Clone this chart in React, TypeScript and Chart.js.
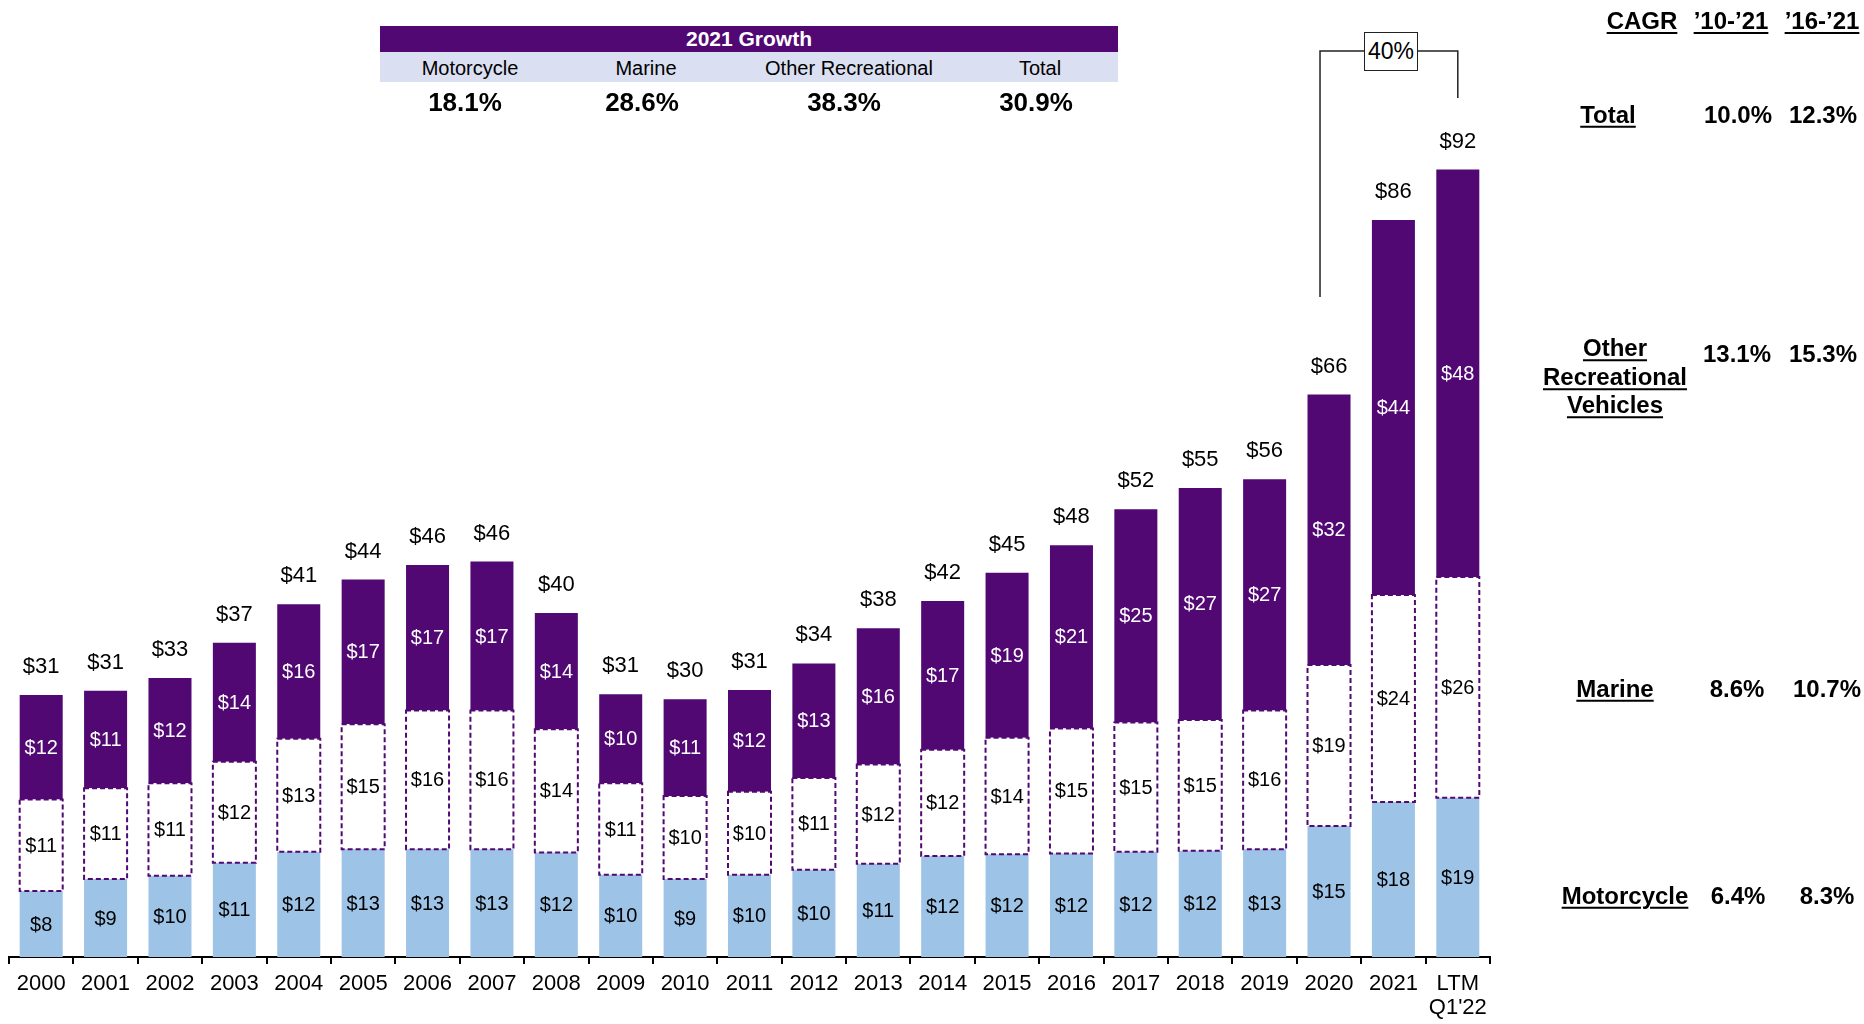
import React, { useEffect, useRef } from 'react';
import { Chart, registerables } from 'chart.js';

Chart.register(...registerables);

// ---------- data ----------
const categories: (string | string[])[] = [
  '2000', '2001', '2002', '2003', '2004', '2005', '2006', '2007', '2008', '2009', '2010',
  '2011', '2012', '2013', '2014', '2015', '2016', '2017', '2018', '2019', '2020', '2021',
  ['LTM', "Q1'22"],
];
const motorcycle = [7.7, 9.1, 9.5, 11.0, 12.3, 12.6, 12.6, 12.6, 12.2, 9.6, 9.1, 9.6, 10.2, 10.9, 11.8, 12.0, 12.1, 12.3, 12.4, 12.6, 15.3, 18.1, 18.6];
const marine = [10.7, 10.6, 10.8, 11.8, 13.2, 14.6, 16.2, 16.2, 14.4, 10.7, 9.7, 9.7, 10.7, 11.6, 12.4, 13.6, 14.6, 15.1, 15.3, 16.2, 18.8, 24.2, 25.8];
const otherRec = [12.2, 11.4, 12.3, 13.9, 15.7, 16.9, 17.0, 17.4, 13.6, 10.4, 11.3, 11.9, 13.4, 15.9, 17.4, 19.3, 21.4, 24.9, 27.1, 27.0, 31.6, 43.8, 47.6];

const growthTitle = '2021 Growth';
const growthHeaders = ['Motorcycle', 'Marine', 'Other Recreational', 'Total'];
const growthValues = ['18.1%', '28.6%', '38.3%', '30.9%'];

const cagrHeaders = ['CAGR', '’10-’21', '’16-’21'];
const cagrRows = [['Total'], ['Other', 'Recreational', 'Vehicles'], ['Marine'], ['Motorcycle']];
const cagr1021 = ['10.0%', '13.1%', '8.6%', '6.4%'];
const cagr1621 = ['12.3%', '15.3%', '10.7%', '8.3%'];

const bracketLabel = '40%';
const bracketFrom = 20; // 2020
const bracketTo = 22; // LTM

// ---------- styles ----------
const PURPLE = '#510873';
const LIGHT_BLUE = '#9DC3E6';
const LAVENDER = '#DADFF2';
const FONT = "'Liberation Sans', Arial, Helvetica, sans-serif";

const totals = motorcycle.map((m, i) => Math.round((m + marine[i] + otherRec[i]) * 10) / 10);

const labelPlugin = {
  id: 'valueLabels',
  afterDatasetsDraw(chart: any) {
    const ctx: CanvasRenderingContext2D = chart.ctx;
    const yScale = chart.scales.y;

    // dashed outline for the marine segments
    const mMeta = chart.getDatasetMeta(1);
    ctx.save();
    ctx.strokeStyle = PURPLE;
    ctx.lineWidth = 2;
    ctx.setLineDash([5, 3]);
    mMeta.data.forEach((el: any) => {
      const p = el.getProps(['x', 'y', 'base', 'width'], true);
      ctx.strokeRect(p.x - p.width / 2, p.y, p.width, p.base - p.y);
    });
    ctx.restore();

    // segment labels
    ctx.save();
    ctx.textAlign = 'center';
    ctx.textBaseline = 'middle';
    ctx.font = `20px ${FONT}`;
    chart.data.datasets.forEach((ds: any, di: number) => {
      const meta = chart.getDatasetMeta(di);
      ctx.fillStyle = di === 2 ? '#FFFFFF' : '#000000';
      meta.data.forEach((el: any, i: number) => {
        const p = el.getProps(['x', 'y', 'base'], true);
        ctx.fillText('$' + Math.round(ds.data[i]), p.x, (p.y + p.base) / 2 + 1);
      });
    });

    // totals
    ctx.font = `22px ${FONT}`;
    ctx.fillStyle = '#000000';
    const meta0 = chart.getDatasetMeta(0);
    totals.forEach((t, i) => {
      const x = meta0.data[i].x;
      const top = yScale.getPixelForValue(t);
      ctx.fillText('$' + Math.round(t), x, top - 28);
    });
    ctx.restore();

    // bracket between 2020 and LTM
    const x1 = meta0.data[bracketFrom].x - 9;
    const x2 = meta0.data[bracketTo].x;
    ctx.save();
    ctx.strokeStyle = '#222';
    ctx.lineWidth = 1.5;
    ctx.beginPath();
    ctx.moveTo(x1, 297);
    ctx.lineTo(x1, 51);
    ctx.lineTo(x2, 51);
    ctx.lineTo(x2, 98);
    ctx.stroke();
    ctx.restore();
  },
};

const abs = (x: number, y: number, extra: React.CSSProperties = {}): React.CSSProperties => ({
  position: 'absolute',
  left: x,
  top: y,
  transform: 'translate(-50%, -50%)',
  whiteSpace: 'nowrap',
  lineHeight: 1,
  ...extra,
});

const ul: React.CSSProperties = {
  textDecoration: 'underline',
  textDecorationThickness: '2px',
  textUnderlineOffset: '3px',
};

export default function App() {
  const canvasRef = useRef<HTMLCanvasElement | null>(null);

  useEffect(() => {
    if (!canvasRef.current) return;
    Chart.defaults.font.family = FONT;
    const chart = new Chart(canvasRef.current, {
      type: 'bar',
      data: {
        labels: categories as any,
        datasets: [
          { label: 'Motorcycle', data: motorcycle, backgroundColor: LIGHT_BLUE, borderWidth: 0 },
          { label: 'Marine', data: marine, backgroundColor: '#FFFFFF', borderWidth: 0 },
          { label: 'Other Recreational', data: otherRec, backgroundColor: PURPLE, borderWidth: 0 },
        ],
      },
      options: {
        responsive: false,
        animation: false,
        devicePixelRatio: 1,
        layout: { padding: { top: 101, left: 9, right: 374, bottom: 0 } },
        datasets: { bar: { barPercentage: 0.668, categoryPercentage: 1 } },
        plugins: { legend: { display: false }, tooltip: { enabled: false } },
        scales: {
          x: {
            stacked: true,
            offset: true,
            grid: { display: true, offset: true, drawOnChartArea: false, drawTicks: true, tickLength: 7, color: '#000', lineWidth: 2 },
            border: { display: true, color: '#000', width: 2 },
            ticks: { color: '#000', font: { size: 22, lineHeight: 1.1 }, padding: 8, maxRotation: 0, autoSkip: false },
            afterFit: (s: any) => { s.height = 67; },
          },
          y: { stacked: true, display: false, min: 0, max: 100 },
        },
      } as any,
      plugins: [labelPlugin],
    });
    return () => chart.destroy();
  }, []);

  const growthCenters = [470, 646, 849, 1040];
  const growthValueCenters = [465, 642, 844, 1036];
  const headerX = [1642, 1731, 1822];
  const rowY = [115, 377, 689, 896];
  const rowLabelX = [1608, 1615, 1615, 1625];
  const col1X = [1738, 1737, 1737, 1738];
  const col2X = [1823, 1823, 1827, 1827];
  const valY = [115, 354, 689, 896];

  return (
    <div style={{ position: 'fixed', left: 0, top: 0, width: 1864, height: 1024, background: '#fff', fontFamily: FONT, color: '#000', overflow: 'hidden' }}>
      <canvas ref={canvasRef} width={1864} height={1024} style={{ position: 'absolute', left: 0, top: 0, width: 1864, height: 1024 }} />

      {/* 2021 Growth table */}
      <div style={{ position: 'absolute', left: 380, top: 26, width: 738, height: 26, background: PURPLE, color: '#fff', fontWeight: 'bold', fontSize: 21, lineHeight: '26px', textAlign: 'center' }}>
        {growthTitle}
      </div>
      <div style={{ position: 'absolute', left: 380, top: 52, width: 738, height: 30, background: LAVENDER }} />
      {growthHeaders.map((h, i) => (
        <div key={h} style={abs(growthCenters[i], 68, { fontSize: 20 })}>{h}</div>
      ))}
      {growthValues.map((v, i) => (
        <div key={v} style={abs(growthValueCenters[i], 102, { fontSize: 26, fontWeight: 'bold' })}>{v}</div>
      ))}

      {/* bracket box */}
      <div style={{ position: 'absolute', left: 1364, top: 32, width: 54, height: 39, boxSizing: 'border-box', border: '1.5px solid #222', background: '#fff', fontSize: 23, lineHeight: '36px', textAlign: 'center' }}>
        {bracketLabel}
      </div>

      {/* CAGR panel */}
      {cagrHeaders.map((h, i) => (
        <div key={h} style={abs(headerX[i], 21, { fontSize: 24, fontWeight: 'bold', ...ul })}>{h}</div>
      ))}
      {cagrRows.map((lines, r) => (
        <div key={r} style={abs(rowLabelX[r], rowY[r], { fontSize: 24, fontWeight: 'bold', textAlign: 'center', lineHeight: '28.5px' })}>
          {lines.map((l, k) => (
            <React.Fragment key={k}>
              <span style={ul}>{l}</span>
              {k < lines.length - 1 ? <br /> : null}
            </React.Fragment>
          ))}
        </div>
      ))}
      {cagr1021.map((v, r) => (
        <div key={'a' + r} style={abs(col1X[r], valY[r], { fontSize: 24, fontWeight: 'bold' })}>{v}</div>
      ))}
      {cagr1621.map((v, r) => (
        <div key={'b' + r} style={abs(col2X[r], valY[r], { fontSize: 24, fontWeight: 'bold' })}>{v}</div>
      ))}
    </div>
  );
}
